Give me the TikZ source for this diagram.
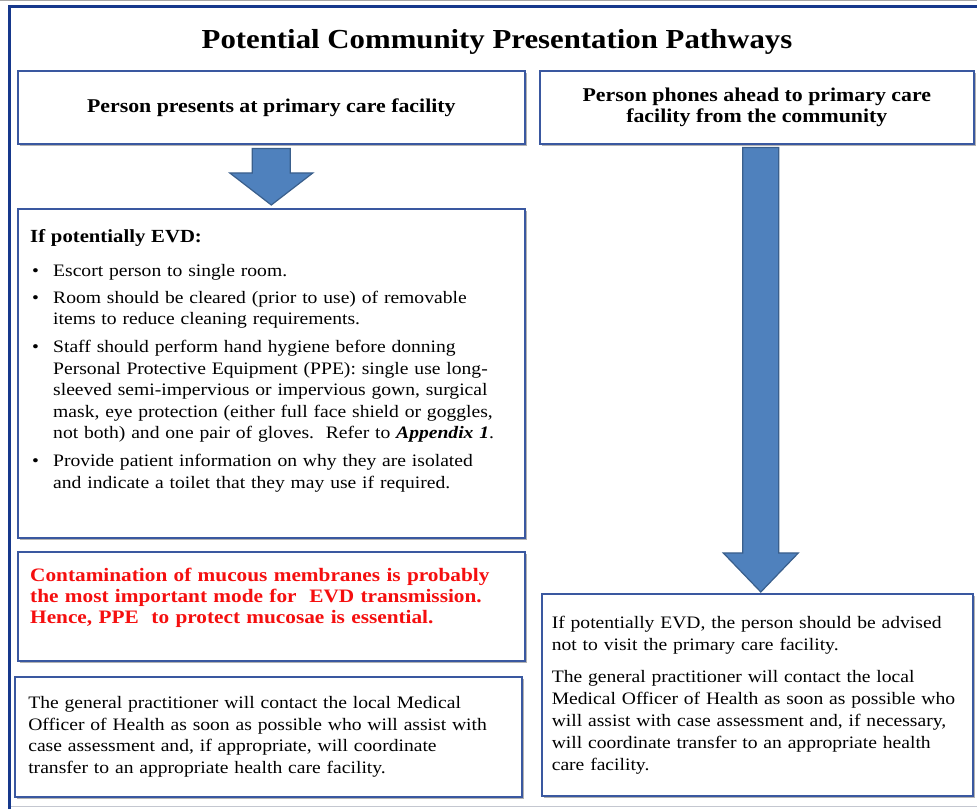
\documentclass[tikz,border=0pt]{standalone}
\usepackage{fontspec}
\setmainfont{Liberation Serif}[FakeStretch=1.12]
\usetikzlibrary{shadows,calc}

\definecolor{boxblue}{RGB}{58,88,160}
\definecolor{framecol}{RGB}{22,56,140}
\definecolor{arrowfill}{RGB}{79,129,189}
\definecolor{arrowline}{RGB}{58,95,140}
\definecolor{warnred}{RGB}{245,15,15}

\setlength{\parindent}{0pt}
\newcommand{\bul}[1]{\noindent\makebox[23pt][l]{\hspace{2pt}\textbullet}\parbox[t]{457pt}{\raggedright\strut #1\strut}}
% block arrow pointing down: top, tip, shaft half width, head half width, head length
\newcommand{\blockdown}[5]{%
  \draw[bigarrow] let \p1=(#1), \p2=(#2) in
    (\x1-#3,\y1) -- (\x1+#3,\y1) -- (\x1+#3,\y2+#5) -- (\x1+#4,\y2+#5)
    -- (\x1,\y2) -- (\x1-#4,\y2+#5) -- (\x1-#3,\y2+#5) -- cycle;}

\tikzset{
  panel/.style={draw=boxblue, line width=1.6pt, fill=white, anchor=north west,
    drop shadow={shadow xshift=2.5pt, shadow yshift=-2.5pt, fill=black, opacity=0.3}},
  headtext/.style={font=\fontsize{19.5}{21}\selectfont\bfseries, align=center},
  bodytext/.style={font=\fontsize{17.5}{21.5}\selectfont, align=left, inner sep=0pt},
  bigarrow/.style={fill=arrowfill, draw=arrowline, line width=1.2pt, line join=miter},
}

\begin{document}
\begin{tikzpicture}[x=1pt,y=1pt]
\useasboundingbox (0,0) rectangle (977,809);

% frame
\draw[black!35, line width=1pt] (0,808.5) -- (977,808.5);
\draw[framecol, line width=3pt] (9.5,0) -- (9.5,802.5) -- (977,802.5);
\draw[boxblue!30!gray!40, line width=1pt] (11,3) -- (977,3);

\node[font=\fontsize{27.5}{30}\selectfont\bfseries] (title) at (497,767)
  {Potential Community Presentation Pathways};

% left pathway
\node[panel, headtext, minimum width=507pt, minimum height=73pt] (presents) at (17,739)
  {Person presents at primary care facility};
\node[panel, minimum width=507pt, minimum height=329pt] (evd) at (17,601) {};
\node[panel, minimum width=507pt, minimum height=109pt] (mucous) at (17,258) {};
\node[panel, bodytext, text width=480pt, inner xsep=13.5pt, minimum height=120pt] (gpleft) at (14,133)
  {The general practitioner will contact the local Medical\\
   Officer of Health as soon as possible who will assist with\\
   case assessment and, if appropriate, will coordinate\\
   transfer to an appropriate health care facility.};

\node[bodytext, text width=480pt, anchor=north west] (evdtext) at (30,580)
  {{\fontsize{18.5}{21.5}\selectfont\bfseries If potentially EVD:}\par\vspace{12.5pt}
   \bul{Escort person to single room.}\par\vspace{5.5pt}
   \bul{Room should be cleared (prior to use) of removable\\
   items to reduce cleaning requirements.}\par\vspace{5.5pt}
   \bul{Staff should perform hand hygiene before donning\\
   Personal Protective Equipment (PPE): single use long-\\
   sleeved semi-impervious or impervious gown, surgical\\
   mask, eye protection (either full face shield or goggles,\\
   not both) and one pair of gloves.\ \ Refer to \textbf{\textit{Appendix 1}}.}\par\vspace{5.5pt}
   \bul{Provide patient information on why they are isolated\\
   and indicate a toilet that they may use if required.}};

\node[bodytext, text width=480pt, anchor=north west, text=warnred,
      font=\fontsize{19}{21}\selectfont\bfseries] (mucoustext) at (30,241)
  {Contamination of mucous membranes is probably\\
   the most important mode for\ \ EVD transmission.\\
   Hence, PPE\ \ to protect mucosae is essential.};

% right pathway
\node[panel, headtext, minimum width=434pt, minimum height=73pt] (phones) at (539,739)
  {Person phones ahead to primary care\\ facility from the community};
\node[panel, bodytext, text width=411pt, inner xsep=10pt, minimum height=202pt,
      font=\fontsize{17.5}{22}\selectfont] (advise) at (541,216)
  {If potentially EVD, the person should be advised\\
   not to visit the primary care facility.\par\vspace{10pt}
   The general practitioner will contact the local\\
   Medical Officer of Health as soon as possible who\\
   will assist with case assessment and, if necessary,\\
   will coordinate transfer to an appropriate health\\
   care facility.};

% arrows
\coordinate (a1top) at ([yshift=-4pt]presents.south);
\coordinate (a1tip) at ([yshift=3pt]evd.north);
\coordinate (a2top) at ([xshift=4pt,yshift=-3pt]phones.south);
\coordinate (a2tip) at ([xshift=4pt,yshift=1pt]advise.north);
\blockdown{a1top}{a1tip}{19}{41.5}{32}
\blockdown{a2top}{a2tip}{18}{37.5}{39}
\end{tikzpicture}
\end{document}
